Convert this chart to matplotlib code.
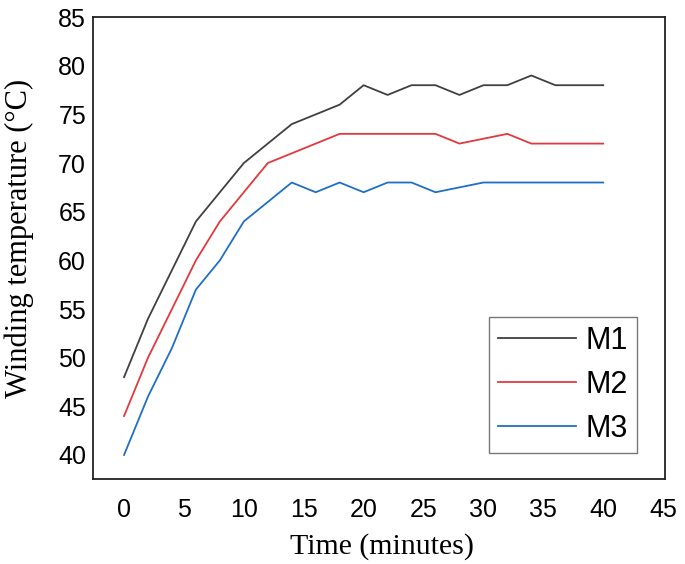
import matplotlib
matplotlib.use("Agg")
import matplotlib.pyplot as plt

time_min = [0, 2, 4, 6, 8, 10, 12, 14, 16, 18, 20, 22, 24, 26, 28, 30, 32, 34, 36, 38, 40]
m1 = [48, 54, 59, 64, 67, 70, 72, 74, 75, 76, 78, 77, 78, 78, 77, 78, 78, 79, 78, 78, 78]
m2 = [44, 50, 55, 60, 64, 67, 70, 71, 72, 73, 73, 73, 73, 73, 72, 72.5, 73, 72, 72, 72, 72]
m3 = [40, 46, 51, 57, 60, 64, 66, 68, 67, 68, 67, 68, 68, 67, 67.5, 68, 68, 68, 68, 68, 68]
x_ticks = [0, 5, 10, 15, 20, 25, 30, 35, 40, 45]
y_ticks = [40, 45, 50, 55, 60, 65, 70, 75, 80, 85]

fig = plt.figure(figsize=(6.85, 5.64), dpi=100)
ax = fig.add_axes([0.1358, 0.1507, 0.835, 0.819])

ax.plot(time_min, m1, color="#404040", lw=1.3, label="M1")
ax.plot(time_min, m2, color="#e0393e", lw=1.3, label="M2")
ax.plot(time_min, m3, color="#1f6fc6", lw=1.3, label="M3")

ax.set_xlim(-2.59, 45.16)
ax.set_ylim(37.53, 85)
ax.set_xticks(x_ticks)
ax.set_yticks(y_ticks)
ax.tick_params(length=0, labelsize=18, pad=5)
ax.tick_params(axis="x", pad=14)
for lab in ax.get_xticklabels() + ax.get_yticklabels():
    lab.set_family("Liberation Sans")

for sp in ax.spines.values():
    sp.set_linewidth(1.3)
    sp.set_color("#222222")

ax.set_xlabel("Time (minutes)", family="Liberation Serif", fontsize=21.5)
ax.set_ylabel("Winding temperature (°C)", family="Liberation Serif", fontsize=22)
ax.xaxis.set_label_coords(0.506, -0.117)
ax.yaxis.set_label_coords(-0.104, 0.52)

leg = ax.legend(loc="lower right", bbox_to_anchor=(0.951, 0.056), borderaxespad=0,
                fancybox=False, frameon=True, handlelength=2.55,
                prop={"family": "Liberation Sans", "size": 22},
                labelspacing=0.46, borderpad=0.3, handletextpad=0.3)
leg.get_frame().set_edgecolor("#555555")
leg.get_frame().set_linewidth(1.0)

fig.savefig("out.png", dpi=100)
